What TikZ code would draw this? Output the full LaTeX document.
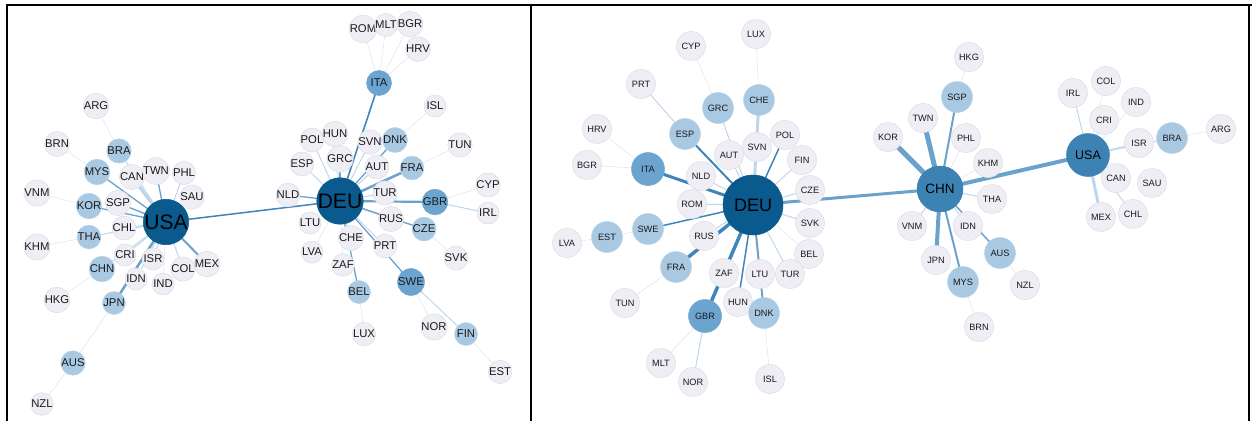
\documentclass[tikz,border=0pt]{standalone}
\usepackage{fontspec}
\setmainfont{Liberation Sans}
\usetikzlibrary{backgrounds}
\definecolor{ngray}{HTML}{EFEEF5}
\definecolor{nborder}{HTML}{DCDCE6}
\definecolor{lblue}{HTML}{A9C9E3}
\definecolor{mblue}{HTML}{6BA5CF}
\definecolor{dblue}{HTML}{0B5A8D}
\definecolor{cblue}{HTML}{3C82B3}
\definecolor{txt}{HTML}{1A1A1A}
\definecolor{cfaint}{HTML}{E2E7EE}
\definecolor{clight}{HTML}{BFD6EA}
\definecolor{cblueE}{HTML}{6AA2CC}
\definecolor{cdark}{HTML}{3F85BA}
\tikzset{
  x=1pt,y=-1pt,
  base/.style={circle,inner sep=0pt,text=txt,draw=nborder,line width=0.5pt},
  lg/.style={base,fill=ngray,minimum size=22pt,font=\fontsize{11.3}{11.3}\selectfont},
  llb/.style={lg,fill=lblue,draw=lblue!80!white,minimum size=23pt},
  lmb/.style={lg,fill=mblue,draw=mblue,minimum size=25pt},
  lhub/.style={base,fill=dblue,draw=dblue,text=black,font=\fontsize{21}{21}\selectfont},
  rg/.style={base,fill=ngray,minimum size=29pt,font=\fontsize{9.2}{9.2}\selectfont},
  rlb/.style={rg,fill=lblue,draw=lblue!80!white,minimum size=31pt},
  rmb/.style={rg,fill=mblue,draw=mblue,minimum size=33pt},
  rhub/.style={base,text=black},
  ef/.style={draw=cfaint,line width=0.6pt},
  el/.style={draw=clight,line width=1pt},
  eb/.style={draw=cblueE,line width=1.3pt},
  ed/.style={draw=cdark,line width=1.6pt},
  frame/.style={draw=black,line width=2pt}
}
\begin{document}
\begin{tikzpicture}
\useasboundingbox (0,0) rectangle (1252,421);
% frame
\draw[frame] (6.5,421) -- (6.5,5.3) -- (1252,5.3);
\draw[frame] (531,5.3) -- (531,421);
\draw[frame] (1249,5.3) -- (1249,421);

% ---------------- LEFT PANEL ----------------
\node[lg]  (LARG) at (96,106) {ARG};
\node[lg]  (LBRN) at (57,144) {BRN};
\node[llb] (LBRA) at (119,151) {BRA};
\node[llb] (LMYS) at (97,172) {MYS};
\node[lg]  (LCAN) at (132,177) {CAN};
\node[lg]  (LTWN) at (156,171) {TWN};
\node[lg]  (LPHL) at (184,173) {PHL};
\node[lg]  (LSAU) at (192,197) {SAU};
\node[lg]  (LVNM) at (37,193) {VNM};
\node[llb] (LKOR) at (89,206) {KOR};
\node[lg]  (LSGP) at (118,203) {SGP};
\node[lg]  (LCHL) at (124,228) {CHL};
\node[llb] (LTHA) at (89,237) {THA};
\node[lg]  (LKHM) at (37,247) {KHM};
\node[lg]  (LCRI) at (125,255) {CRI};
\node[lg]  (LISR) at (153,259) {ISR};
\node[lg]  (LCOL) at (183,269) {COL};
\node[lg]  (LMEX) at (207,264) {MEX};
\node[llb] (LCHN) at (102,269) {CHN};
\node[lg]  (LIDN) at (136,279) {IDN};
\node[lg]  (LIND) at (163,284) {IND};
\node[lg]  (LHKG) at (57,300) {HKG};
\node[llb] (LJPN) at (114,303) {JPN};
\node[llb] (LAUS) at (73,363) {AUS};
\node[lg]  (LNZL) at (42,404) {NZL};
\node[lhub,minimum size=40pt] (LUSA) at (166,222) {USA};

\node[lg]  (LROM) at (363,29) {ROM};
\node[lg]  (LMLT) at (386,25) {MLT};
\node[lg]  (LBGR) at (410,24) {BGR};
\node[lg]  (LHRV) at (418,49) {HRV};
\node[lmb] (LITA) at (379,83) {ITA};
\node[lg]  (LISL) at (435,106) {ISL};
\node[lg]  (LPOL) at (312,140) {POL};
\node[lg]  (LHUN) at (335,134) {HUN};
\node[lg]  (LSVN) at (370,142) {SVN};
\node[llb] (LDNK) at (395,140) {DNK};
\node[lg]  (LTUN) at (460,145) {TUN};
\node[lg]  (LESP) at (302,164) {ESP};
\node[lg]  (LGRC) at (340,159) {GRC};
\node[lg]  (LAUT) at (377,167) {AUT};
\node[llb] (LFRA) at (412,168) {FRA};
\node[lg]  (LNLD) at (288,195) {NLD};
\node[lg]  (LTUR) at (385,193) {TUR};
\node[lmb] (LGBR) at (435,202) {GBR};
\node[lg]  (LCYP) at (488,185) {CYP};
\node[lg]  (LIRL) at (488,213) {IRL};
\node[lg]  (LLTU) at (310,223) {LTU};
\node[lg]  (LRUS) at (391,219) {RUS};
\node[llb] (LCZE) at (424,229) {CZE};
\node[lg]  (LCHE) at (351,238) {CHE};
\node[lg]  (LPRT) at (385,246) {PRT};
\node[lg]  (LLVA) at (312,252) {LVA};
\node[lg]  (LZAF) at (343,265) {ZAF};
\node[lg]  (LSVK) at (456,258) {SVK};
\node[lmb] (LSWE) at (411,282) {SWE};
\node[llb] (LBEL) at (359,292) {BEL};
\node[lg]  (LLUX) at (364,334) {LUX};
\node[lg]  (LNOR) at (434,327) {NOR};
\node[llb] (LFIN) at (466,334) {FIN};
\node[lg]  (LEST) at (500,372) {EST};
\node[lhub,minimum size=44pt] (LDEU) at (340,201) {DEU};

% ---------------- RIGHT PANEL ----------------
\node[rg]  (RLUX) at (756,34) {LUX};
\node[rg]  (RCYP) at (691,46) {CYP};
\node[rg]  (RPRT) at (641,84) {PRT};
\node[rlb] (RCHE) at (759,100) {CHE};
\node[rlb] (RGRC) at (718,108) {GRC};
\node[rg]  (RHRV) at (597,129) {HRV};
\node[rlb] (RESP) at (685,134) {ESP};
\node[rg]  (RSVN) at (757,147) {SVN};
\node[rg]  (RAUT) at (729,155) {AUT};
\node[rg]  (RBGR) at (587,165) {BGR};
\node[rmb] (RITA) at (648,169) {ITA};
\node[rg]  (RNLD) at (701,176) {NLD};
\node[rg]  (RROM) at (692,204) {ROM};
\node[rlb] (RSWE) at (648,229) {SWE};
\node[rlb] (REST) at (607,237) {EST};
\node[rg]  (RLVA) at (567,243) {LVA};
\node[rg]  (RRUS) at (704,236) {RUS};
\node[rlb] (RFRA) at (676,267) {FRA};
\node[rg]  (RZAF) at (724,273) {ZAF};
\node[rg]  (RLTU) at (760,274) {LTU};
\node[rg]  (RTUN) at (625,303) {TUN};
\node[rg]  (RHUN) at (738,302) {HUN};
\node[rmb] (RGBR) at (705,316) {GBR};
\node[rg]  (RMLT) at (661,363) {MLT};
\node[rg]  (RNOR) at (693,382) {NOR};
\node[rg]  (RPOL) at (785,135) {POL};
\node[rg]  (RFIN) at (802,160) {FIN};
\node[rg]  (RCZE) at (810,190) {CZE};
\node[rg]  (RSVK) at (810,223) {SVK};
\node[rg]  (RBEL) at (809,254) {BEL};
\node[rg]  (RTUR) at (790,274) {TUR};
\node[rlb] (RDNK) at (764,313) {DNK};
\node[rg]  (RISL) at (770,379) {ISL};
\node[rhub,fill=dblue,draw=dblue,minimum size=60pt,font=\fontsize{18}{18}\selectfont] (RDEU) at (753,205) {DEU};

\node[rg]  (RHKG) at (969,57) {HKG};
\node[rlb] (RSGP) at (957,97) {SGP};
\node[rg]  (RTWN) at (923,118) {TWN};
\node[rg]  (RKOR) at (888,137) {KOR};
\node[rg]  (RPHL) at (966,138) {PHL};
\node[rg]  (RKHM) at (988,163) {KHM};
\node[rg]  (RTHA) at (992,199) {THA};
\node[rg]  (RVNM) at (912,226) {VNM};
\node[rg]  (RIDN) at (968,226) {IDN};
\node[rlb] (RAUS) at (1000,253) {AUS};
\node[rg]  (RJPN) at (936,260) {JPN};
\node[rlb] (RMYS) at (963,282) {MYS};
\node[rg]  (RBRN) at (979,327) {BRN};
\node[rg]  (RNZL) at (1025,285) {NZL};
\node[rhub,fill=cblue,draw=cblue,minimum size=46pt,font=\fontsize{13.5}{13.5}\selectfont] (RCHN) at (940,189) {CHN};

\node[rg]  (RCOL) at (1106,81) {COL};
\node[rg]  (RIRL) at (1073,93) {IRL};
\node[rg]  (RIND) at (1136,102) {IND};
\node[rg]  (RCRI) at (1104,120) {CRI};
\node[rg]  (RARG) at (1221,129) {ARG};
\node[rlb] (RBRA) at (1172,138) {BRA};
\node[rg]  (RISR) at (1139,143) {ISR};
\node[rg]  (RCAN) at (1116,178) {CAN};
\node[rg]  (RSAU) at (1152,183) {SAU};
\node[rg]  (RCHL) at (1133,214) {CHL};
\node[rg]  (RMEX) at (1101,217) {MEX};
\node[rhub,fill=cblue,draw=cblue,minimum size=43pt,font=\fontsize{12.5}{12.5}\selectfont] (RUSA) at (1088,155) {USA};

% ---------------- EDGES ----------------
\begin{pgfonlayer}{background}
% left USA cluster
\foreach \a/\b in {ARG/BRA,BRN/MYS,VNM/KOR,KHM/THA,HKG/CHN,AUS/JPN,NZL/AUS,IND/USA}
  \draw[ef] (L\a.center) -- (L\b.center);
\foreach \a/\b in {BRA/USA,PHL/USA,CHL/USA,THA/USA,CHN/USA,CRI/USA,ISR/USA,IDN/USA,COL/USA}
  \draw[el] (L\a.center) -- (L\b.center);
\foreach \a/\b in {MYS/USA,TWN/USA,KOR/USA,SGP/USA}
  \draw[eb] (L\a.center) -- (L\b.center);
\draw[el,line width=3.2pt] (LCAN.center) -- (LUSA.center);
\draw[eb,line width=2.5pt] (LJPN.center) -- (LUSA.center);
\draw[eb,line width=2pt] (LMEX.center) -- (LUSA.center);
\draw[ed,line width=1.5pt] (LUSA.center) -- (LDEU.center);
% left DEU cluster
\foreach \a/\b in {ROM/ITA,MLT/ITA,BGR/ITA,HRV/ITA,ISL/DNK,TUN/FRA,CYP/GBR,LTU/DEU,LVA/DEU,SVK/CZE,ZAF/DEU,LUX/BEL,NOR/SWE,EST/FIN}
  \draw[ef] (L\a.center) -- (L\b.center);
\foreach \a/\b in {POL/DEU,HUN/DEU,SVN/DEU,ESP/DEU,AUT/DEU,TUR/DEU,IRL/GBR,RUS/DEU,CHE/DEU,PRT/DEU,FIN/SWE}
  \draw[el] (L\a.center) -- (L\b.center);
\foreach \a/\b in {DNK/DEU,GRC/DEU,NLD/DEU,CZE/DEU,SWE/DEU,BEL/DEU}
  \draw[eb] (L\a.center) -- (L\b.center);
\draw[ed] (LITA.center) -- (LDEU.center);
\draw[eb,line width=2.5pt] (LFRA.center) -- (LDEU.center);
\draw[eb,line width=2.2pt] (LGBR.center) -- (LDEU.center);
% right DEU cluster
\foreach \a/\b in {LUX/CHE,CYP/GRC,HRV/ITA,BGR/ITA,EST/SWE,LVA/EST,TUN/FRA,MLT/GBR,ISL/DNK,BEL/DEU}
  \draw[ef] (R\a.center) -- (R\b.center);
\foreach \a/\b in {SVN/DEU,GRC/DEU,AUT/DEU,PRT/ESP,NLD/DEU,ROM/DEU,RUS/DEU,ZAF/DEU,NOR/GBR,LTU/DEU,TUR/DEU,SVK/DEU,CZE/DEU,FIN/DEU}
  \draw[el] (R\a.center) -- (R\b.center);
\draw[el,line width=3pt] (RCHE.center) -- (RDEU.center);
\draw[ed,line width=2pt] (RESP.center) -- (RDEU.center);
\draw[ed,line width=3pt] (RITA.center) -- (RDEU.center);
\draw[ed,line width=1.5pt] (RSWE.center) -- (RDEU.center);
\draw[ed,line width=3.5pt] (RFRA.center) -- (RDEU.center);
\draw[ed,line width=3.5pt] (RGBR.center) -- (RDEU.center);
\draw[ed,line width=1.5pt] (RHUN.center) -- (RDEU.center);
\draw[eb,line width=2pt] (RDNK.center) -- (RDEU.center);
\draw[ed,line width=1.5pt] (RPOL.center) -- (RDEU.center);
\draw[eb,line width=3pt] (RDEU.center) -- (RCHN.center);
% right CHN cluster
\foreach \a/\b in {HKG/SGP,PHL/CHN,KHM/CHN,NZL/AUS,BRN/MYS}
  \draw[ef] (R\a.center) -- (R\b.center);
\foreach \a/\b in {THA/CHN,VNM/CHN,IDN/CHN}
  \draw[el] (R\a.center) -- (R\b.center);
\draw[eb,line width=2pt] (RSGP.center) -- (RCHN.center);
\draw[eb,line width=5pt] (RTWN.center) -- (RCHN.center);
\draw[eb,line width=5pt] (RKOR.center) -- (RCHN.center);
\draw[eb,line width=1.5pt] (RAUS.center) -- (RCHN.center);
\draw[eb,line width=4pt] (RJPN.center) -- (RCHN.center);
\draw[eb,line width=2pt] (RMYS.center) -- (RCHN.center);
\draw[eb,line width=4pt] (RCHN.center) -- (RUSA.center);
% right USA cluster
\foreach \a/\b in {COL/USA,IND/USA,ARG/BRA}
  \draw[ef] (R\a.center) -- (R\b.center);
\foreach \a/\b in {IRL/USA,CRI/USA,ISR/USA,BRA/USA,CHL/USA}
  \draw[el] (R\a.center) -- (R\b.center);
\draw[el,line width=3pt] (RCAN.center) -- (RUSA.center);
\draw[el,line width=3pt] (RMEX.center) -- (RUSA.center);
\end{pgfonlayer}
\end{tikzpicture}
\end{document}
